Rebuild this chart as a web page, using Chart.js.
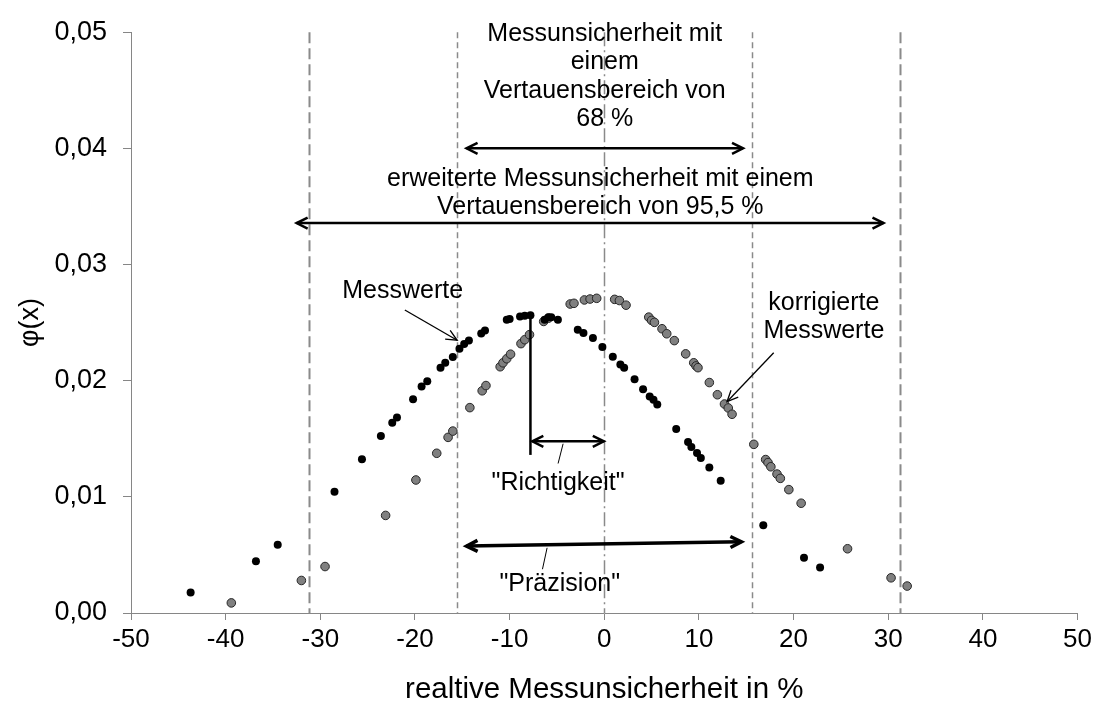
<!DOCTYPE html>
<html>
<head>
<meta charset="utf-8">
<script src="https://cdn.jsdelivr.net/npm/chart.js@4/dist/chart.umd.min.js"></script>
<style>
  html, body { margin: 0; padding: 0; background: #ffffff; }
  #wrap { width: 1096px; height: 709px; position: relative; }
</style>
</head>
<body>
<div id="wrap"><canvas id="c" width="1096" height="709"></canvas></div>
<script>
// Messwerte (black)
const messX = [-43.7, -36.8, -34.5, -28.5, -25.6, -23.6, -22.4, -21.9, -20.2, -19.3, -18.7,
  -17.3, -16.8, -16.0, -15.3, -14.8, -14.3, -13.0, -12.6, -10.3, -10.0, -8.9, -8.4, -7.8,
  -6.3, -5.9, -5.6, -4.9, -2.8, -2.2, -1.2, -0.2, 0.9, 1.7, 2.1, 3.2, 4.1, 4.8, 5.2, 5.6,
  7.6, 8.85, 9.2, 9.8, 10.2, 11.1, 12.3, 16.8, 21.1, 22.8];
const messY = [0.00177, 0.00445, 0.00587, 0.01043, 0.01324, 0.01523, 0.01637, 0.01683, 0.01841, 0.0195, 0.01995,
  0.02112, 0.02154, 0.02203, 0.02274, 0.02316, 0.02345, 0.02406, 0.02433, 0.02524, 0.0253, 0.02553, 0.02558, 0.02564,
  0.02524, 0.02547, 0.02547, 0.02524, 0.02439, 0.0241, 0.02368, 0.02291, 0.02206, 0.0214, 0.02112, 0.02012, 0.01927, 0.01864, 0.01836, 0.01794,
  0.01585, 0.01472, 0.01429, 0.01378, 0.01335, 0.01253, 0.01139, 0.00755, 0.00476, 0.00391];

// korrigierte Messwerte (grey)
const korrX = [-39.4, -32.0, -29.5, -23.1, -19.9, -17.7, -16.5, -16.0, -14.2, -12.9, -12.5,
  -11.0, -10.7, -10.3, -9.9, -8.8, -8.4, -7.9, -6.4, -5.9, -3.6, -3.2, -2.1, -1.5, -0.8,
  1.1, 1.6, 2.3, 4.7, 5.0, 5.3, 6.1, 6.6, 7.4, 8.6, 9.45, 9.7, 9.9, 11.1, 11.95, 12.7, 13.1, 13.5,
  15.8, 17.05, 17.3, 17.6, 18.25, 18.6, 19.5, 20.8, 25.7, 30.3, 32.0];
const korrY = [0.00087, 0.0028, 0.0040, 0.0084, 0.01145, 0.01375, 0.01512, 0.01566, 0.01768, 0.01913, 0.01958,
  0.0212, 0.02154, 0.02189, 0.02228, 0.02319, 0.02353, 0.02396, 0.0251, 0.02538, 0.0266, 0.02666, 0.02695, 0.02703, 0.02709,
  0.027, 0.0269, 0.0265, 0.02547, 0.02519, 0.02502, 0.02447, 0.02404, 0.02345, 0.02231, 0.02154, 0.02127, 0.02112, 0.01984, 0.01879, 0.01799, 0.01765, 0.01711,
  0.01452, 0.01321, 0.01295, 0.01259, 0.01196, 0.01159, 0.01062, 0.00945, 0.00553, 0.00303, 0.00232];

// Axis ticks
const xTicks = [-50, -40, -30, -20, -10, 0, 10, 20, 30, 40, 50];
const xTickLabels = ['-50', '-40', '-30', '-20', '-10', '0', '10', '20', '30', '40', '50'];
const yTicks = [0, 0.01, 0.02, 0.03, 0.04, 0.05];
const yTickLabels = ['0,00', '0,01', '0,02', '0,03', '0,04', '0,05'];

// Uncertainty bounds (±1σ, ±2σ) and the true value
const sigmaOuter = [-31.2, 31.2];
const sigmaInner = [-15.6, 15.6];
const trueValue = 0;
// Mean of the raw measurements
const rawMean = -7.8;

const FONT = '"Liberation Sans", Arial, sans-serif';

// Annotations, expressed in data units
const spanArrows = [
  { x1: -14.55, y1: 0.0400, x2: 14.66, y2: 0.0400, w: 2.5 },
  { x1: -32.5, y1: 0.03357, x2: 29.5, y2: 0.03357, w: 2.5 },
  { x1: -7.6, y1: 0.01478, x2: -0.05, y2: 0.01478, w: 2.5 },
  { x1: -14.55, y1: 0.00576, x2: 14.49, y2: 0.00613, w: 3.5 }
];
const pointerArrows = [
  { x1: -21.07, y1: 0.02609, x2: -15.54, y2: 0.02348 },
  { x1: 17.9, y1: 0.0224, x2: 12.97, y2: 0.01819 }
];
const leaders = [
  { x1: -4.35, y1: 0.01457, x2: -4.88, y2: 0.01287 },
  { x1: -6.04, y1: 0.00561, x2: -6.53, y2: 0.00377 }
];
const labels = [
  { t: 'Messunsicherheit mit', x: 0.05, y: 0.04927 },
  { t: 'einem', x: 0.05, y: 0.04680 },
  { t: 'Vertauensbereich von', x: 0.05, y: 0.04433 },
  { t: '68 %', x: 0.05, y: 0.04189 },
  { t: 'erweiterte Messunsicherheit mit einem', x: -0.42, y: 0.03673 },
  { t: 'Vertauensbereich von 95,5 %', x: -0.42, y: 0.03434 },
  { t: 'Messwerte', x: -21.3, y: 0.02709 },
  { t: 'korrigierte', x: 23.2, y: 0.02609 },
  { t: 'Messwerte', x: 23.2, y: 0.02368 },
  { t: '"Richtigkeit"', x: -4.88, y: 0.0106 },
  { t: '"Präzision"', x: -4.7, y: 0.00192 }
];

function arrowHead(ctx, tx, ty, fx, fy, len, half) {
  const a = Math.atan2(ty - fy, tx - fx);
  const c = Math.cos(a), s = Math.sin(a);
  ctx.beginPath();
  ctx.moveTo(tx - len * c + half * s, ty - len * s - half * c);
  ctx.lineTo(tx, ty);
  ctx.lineTo(tx - len * c - half * s, ty - len * s + half * c);
  ctx.stroke();
}

const guideLines = {
  id: 'guideLines',
  beforeDatasetsDraw(chart) {
    const { ctx, chartArea, scales: { x } } = chart;
    ctx.save();
    ctx.strokeStyle = '#8a8a8a';
    const vline = (v, dash, w) => {
      const px = Math.round(x.getPixelForValue(v)) + 0.5;
      ctx.lineWidth = w;
      ctx.setLineDash(dash);
      ctx.beginPath();
      ctx.moveTo(px, chartArea.top);
      ctx.lineTo(px, chartArea.bottom);
      ctx.stroke();
    };
    sigmaOuter.forEach(v => vline(v, [11, 5], 2));
    sigmaInner.forEach(v => vline(v, [6, 4], 1.5));
    vline(trueValue, [14, 4, 2, 4], 1.5);
    ctx.restore();
  },
  afterDatasetsDraw(chart) {
    const { ctx, scales: { x, y } } = chart;
    const X = v => x.getPixelForValue(v), Y = v => y.getPixelForValue(v);
    ctx.save();
    ctx.setLineDash([]);
    ctx.strokeStyle = '#000';
    ctx.fillStyle = '#000';
    ctx.lineCap = 'butt';
    ctx.lineJoin = 'miter';

    // double-headed span arrows
    spanArrows.forEach(a => {
      const x1 = X(a.x1), y1 = Y(a.y1), x2 = X(a.x2), y2 = Y(a.y2);
      ctx.lineWidth = a.w;
      ctx.beginPath();
      ctx.moveTo(x1, y1);
      ctx.lineTo(x2, y2);
      ctx.stroke();
      arrowHead(ctx, x1, y1, x2, y2, 11, 5.5);
      arrowHead(ctx, x2, y2, x1, y1, 11, 5.5);
    });

    // marker for the mean of the raw measurements
    ctx.lineWidth = 2.5;
    ctx.beginPath();
    ctx.moveTo(X(rawMean), Y(0.02555));
    ctx.lineTo(X(rawMean), Y(0.01361));
    ctx.stroke();

    // pointers to the two series
    ctx.lineWidth = 1.3;
    pointerArrows.forEach(a => {
      const x1 = X(a.x1), y1 = Y(a.y1), x2 = X(a.x2), y2 = Y(a.y2);
      ctx.beginPath();
      ctx.moveTo(x1, y1);
      ctx.lineTo(x2, y2);
      ctx.stroke();
      arrowHead(ctx, x2, y2, x1, y1, 11, 5);
    });

    // leader lines from labels
    ctx.lineWidth = 1;
    leaders.forEach(a => {
      ctx.beginPath();
      ctx.moveTo(X(a.x1), Y(a.y1));
      ctx.lineTo(X(a.x2), Y(a.y2));
      ctx.stroke();
    });

    // text labels
    ctx.font = '25px ' + FONT;
    ctx.textAlign = 'center';
    ctx.textBaseline = 'alphabetic';
    labels.forEach(l => ctx.fillText(l.t, X(l.x), Y(l.y)));
    ctx.restore();
  }
};

const chart = new Chart(document.getElementById('c'), {
  type: 'scatter',
  data: {
    datasets: [
      {
        label: 'Messwerte',
        data: messX.map((v, i) => ({ x: v, y: messY[i] })),
        backgroundColor: '#000000',
        borderColor: '#000000',
        borderWidth: 0,
        pointRadius: 4,
        order: 0
      },
      {
        label: 'korrigierte Messwerte',
        data: korrX.map((v, i) => ({ x: v, y: korrY[i] })),
        backgroundColor: '#808080',
        borderColor: '#262626',
        borderWidth: 1,
        pointRadius: 4.3,
        order: 1
      }
    ]
  },
  options: {
    responsive: false,
    animation: false,
    devicePixelRatio: 1,
    layout: { padding: { left: 0, right: 18, top: 27, bottom: 0 } },
    plugins: { legend: { display: false }, tooltip: { enabled: false } },
    scales: {
      x: {
        type: 'linear',
        min: -50,
        max: 50,
        afterBuildTicks: s => { s.ticks = xTicks.map(v => ({ value: v })); },
        afterFit: s => { s.height = 96; },
        ticks: {
          callback: (v, i) => xTickLabels[i],
          font: { family: FONT, size: 26 },
          color: '#000',
          padding: 4,
          maxRotation: 0,
          autoSkip: false
        },
        grid: { drawOnChartArea: false, drawTicks: true, tickLength: 7, color: '#868686' },
        border: { color: '#868686', width: 1 },
        title: {
          display: true,
          text: 'realtive Messunsicherheit in %',
          font: { family: FONT, size: 29.5 },
          color: '#000',
          padding: { top: 0, bottom: 1 }
        }
      },
      y: {
        type: 'linear',
        min: 0,
        max: 0.05,
        afterBuildTicks: s => { s.ticks = yTicks.map(v => ({ value: v })); },
        afterFit: s => { s.width = 131; },
        ticks: {
          callback: (v, i) => yTickLabels[i],
          font: { family: FONT, size: 27 },
          color: '#000',
          padding: 16,
          autoSkip: false
        },
        grid: { drawOnChartArea: false, drawTicks: true, tickLength: 8, color: '#868686' },
        border: { color: '#868686', width: 1 },
        title: {
          display: true,
          text: 'φ(x)',
          font: { family: FONT, size: 27 },
          color: '#000',
          padding: { top: 14, bottom: 0 }
        }
      }
    }
  },
  plugins: [guideLines]
});
</script>
</body>
</html>
